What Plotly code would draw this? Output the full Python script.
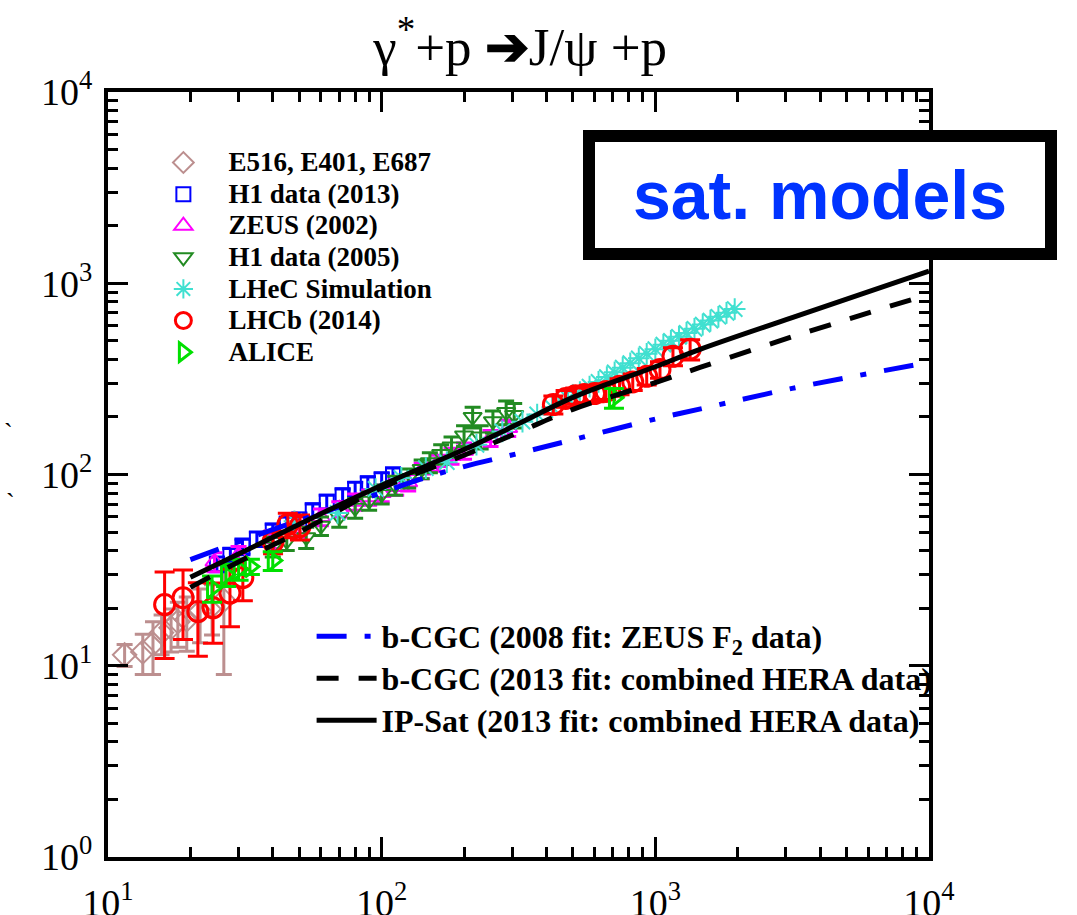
import plotly.graph_objects as go

# ---------------- data ----------------
E_W = [11.5, 13.4, 14.6, 15.7, 17.0, 18.0, 19.4, 21.7, 24.0, 26.5]
E_sig = [11.4, 11.8, 13.0, 14.9, 15.8, 17.0, 17.4, 19.2, 20.5, 22.0]
E_err = [1.5, 2.8, 4.0, 3.5, 4.0, 4.5, 5.5, 6.0, 6.0, 13.0]

H1_13_W = [25, 28, 31, 35, 40, 45, 50, 56, 63, 72, 80, 89, 100, 110]
H1_13_sig = [34, 38, 42, 46, 51, 55, 58, 65, 72, 78, 84, 90, 94, 100]
H1_13_err = [3, 3, 4, 4, 4, 5, 5, 5, 6, 6, 7, 7, 8, 8]

ZEUS_W = [24.5, 30, 40, 50, 60, 70, 80, 90, 100, 113, 125, 140, 160, 180, 200, 250, 290]
ZEUS_sig = [35, 38, 46, 52, 60, 66, 72, 76, 80, 86, 91, 105, 115, 125, 133, 155, 175]
ZEUS_err = [4, 4, 5, 5, 6, 6, 7, 7, 8, 8, 9, 10, 11, 12, 13, 15, 17]

H1_05_W = [40, 45, 53, 60, 70, 80, 90, 100, 112, 125, 140, 150, 165, 180, 200, 215, 230, 255, 285, 305]
H1_05_sig = [42, 45, 47, 54, 60, 67, 73, 79, 88, 96, 107, 116, 128, 140, 160, 200, 158, 190, 212, 205]
H1_05_err = [5, 5, 6, 6, 7, 8, 8, 9, 10, 11, 12, 14, 15, 17, 20, 25, 22, 25, 30, 30]

LHeC_W = [48, 69, 95, 118, 145, 173, 222, 276, 327, 370, 420, 480, 530, 575, 620, 665, 710,
          760, 810, 870, 930, 1000, 1070, 1140, 1220, 1300, 1390, 1490, 1590, 1700, 1820, 1950]
LHeC_sig = [57, 63, 84, 96, 108, 116, 143, 168, 189, 206, 225, 250, 270, 288, 305, 323, 342,
            362, 382, 405, 428, 452, 477, 500, 525, 550, 578, 608, 638, 668, 700, 733]

LHCb_W = [16.1, 18.8, 21.3, 24.2, 27.9, 31.1, 40.1, 45.4, 50.3,
          424, 470, 510, 550, 600, 660, 740, 827, 930, 1040, 1160, 1340]
LHCb_sig = [20.9, 22.7, 19.2, 20.1, 24.0, 28.9, 44.5, 54.7, 53.4,
            232, 250, 258, 262, 265, 272, 289, 305, 326, 354, 415, 452]
LHCb_err = [10, 9, 8, 7, 8, 7, 6, 8, 8,
            25, 25, 25, 25, 25, 25, 28, 30, 32, 35, 45, 55]

ALICE_W = [24, 27, 30, 33, 40, 706]
ALICE_sig = [25.5, 30, 32, 33, 35.5, 252]
ALICE_err = [4, 4, 4, 3, 4, 30]

# model curves
bCGC08_W = [20, 31.6, 50, 100, 138, 200, 316, 500, 1000, 1542, 3162, 10000]
bCGC08_sig = [35.9, 45.7, 57.5, 80.4, 94.2, 110, 129, 152, 195, 224, 282, 386]
bCGC13_W = [20, 31.6, 50, 100, 200, 316, 500, 1000, 1456, 3162, 10000]
bCGC13_sig = [25.7, 36.3, 50, 85.1, 126, 166, 219, 302, 363, 525, 876]
IPSat_W = [20, 31.6, 50, 100, 200, 316, 500, 1000, 1456, 3162, 10000]
IPSat_sig = [29.0, 39.8, 55.0, 87.9, 135, 184, 253, 366, 451, 661, 1156]

x_ticks = [10, 100, 1000, 10000]
x_ticktext = ["10<sup>1</sup>", "10<sup>2</sup>", "10<sup>3</sup>", "10<sup>4</sup>"]
y_ticks = [1, 10, 100, 1000, 10000]
y_ticktext = ["10<sup>0</sup>", "10<sup>1</sup>", "10<sup>2</sup>", "10<sup>3</sup>", "10<sup>4</sup>"]
x_minor = [k * 10 ** e for e in (1, 2, 3) for k in range(2, 10)]
y_minor = [k * 10 ** e for e in (0, 1, 2, 3) for k in range(2, 10)]

SERIF = "Liberation Serif, Times New Roman, serif"


def leg1(t):
    return '<span style="font-size:27px"><b>%s</b></span>' % t


def leg2(t):
    return '<span style="font-size:32px"><b>%s</b></span>' % t


fig = go.Figure()


def add_pts(W, s, err, name, symbol, color, size, lw=2, capw=8):
    ey = dict(type="data", array=err, visible=True, color=color, thickness=3, width=capw) if err else None
    fig.add_trace(go.Scatter(
        x=W, y=s, mode="markers", name=leg1(name), legend="legend",
        marker=dict(symbol=symbol, size=size, color=color, line=dict(color=color, width=lw)),
        error_y=ey))


add_pts(E_W, E_sig, E_err, "E516, E401, E687", "diamond-open", "#bc8f8f", 18)
add_pts(H1_13_W, H1_13_sig, H1_13_err, "H1 data (2013)", "square-open", "#0000ff", 14)
add_pts(ZEUS_W, ZEUS_sig, ZEUS_err, "ZEUS (2002)", "triangle-up-open", "#ff00ff", 16)
add_pts(H1_05_W, H1_05_sig, H1_05_err, "H1 data (2005)", "triangle-down-open", "#228b22", 16)
add_pts(LHeC_W, LHeC_sig, None, "LHeC Simulation", "asterisk-open", "#40e0d0", 18)
add_pts(LHCb_W, LHCb_sig, LHCb_err, "LHCb (2014)", "circle-open", "#ff0000", 20, lw=3, capw=10)
add_pts(ALICE_W, ALICE_sig, ALICE_err, "ALICE", "triangle-right-open", "#00e000", 18, lw=3, capw=10)

fig.add_trace(go.Scatter(x=bCGC08_W, y=bCGC08_sig, mode="lines", legend="legend2",
                         name=leg2("b-CGC (2008 fit: ZEUS F<sub>2</sub> data)"),
                         line=dict(color="#0000ff", width=5, dash="30px,18px,6px,18px"), line_shape="spline"))
fig.add_trace(go.Scatter(x=bCGC13_W, y=bCGC13_sig, mode="lines", legend="legend2",
                         name=leg2("b-CGC (2013 fit: combined HERA data)"),
                         line=dict(color="black", width=5, dash="22px,20px"), line_shape="spline"))
fig.add_trace(go.Scatter(x=IPSat_W, y=IPSat_sig, mode="lines", legend="legend2",
                         name=leg2("IP-Sat (2013 fit: combined HERA data)"),
                         line=dict(color="black", width=5), line_shape="spline"))
# carrier trace for the minor-tick overlay axes (invisible)
fig.add_trace(go.Scatter(x=IPSat_W, y=IPSat_sig, mode="lines", xaxis="x2", yaxis="y2",
                         line=dict(width=0, color="rgba(0,0,0,0)"), showlegend=False, hoverinfo="skip"))

base = dict(type="log", showgrid=False, zeroline=False, automargin=False,
            showline=True, linecolor="black", linewidth=4, mirror="ticks",
            ticks="inside", tickwidth=3, tickcolor="black", tickmode="array")

fig.update_layout(
    width=1077, height=915,
    margin=dict(l=108, r=148, t=92, b=58, autoexpand=False),
    paper_bgcolor="white", plot_bgcolor="white",
    title=dict(text="γ<sup>*</sup>+p <b>➔</b>J/ψ +p", x=0.502, xref="paper", xanchor="center",
               y=1 - 46 / 915, yref="container", yanchor="middle",
               font=dict(family=SERIF, size=53, color="black")),
    xaxis=dict(base, range=[1, 4], tickvals=x_ticks, ticktext=x_ticktext, ticklen=20,
               ticklabelstandoff=9, tickfont=dict(family=SERIF, size=38, color="black")),
    yaxis=dict(base, range=[0, 4], tickvals=y_ticks, ticktext=y_ticktext, ticklen=20,
               ticklabelstandoff=4, tickfont=dict(family=SERIF, size=38, color="black")),
    xaxis2=dict(base, range=[1, 4], tickvals=x_minor, ticklen=10, showticklabels=False,
                overlaying="x", anchor="y2", side="bottom"),
    yaxis2=dict(base, range=[0, 4], tickvals=y_minor, ticklen=10, showticklabels=False,
                overlaying="y", anchor="x2", side="left"),
    legend=dict(x=0.037, y=0.935, xanchor="left", yanchor="top", bgcolor="rgba(0,0,0,0)",
                font=dict(family=SERIF, size=22, color="black"), itemwidth=80, tracegroupgap=0),
    legend2=dict(x=0.248, y=0.3227, xanchor="left", yanchor="top", bgcolor="rgba(0,0,0,0)",
                 font=dict(family=SERIF, size=30, color="black"), itemwidth=60, tracegroupgap=0),
    showlegend=True,
    annotations=[
        dict(text="<b>sat. models</b>", xref="paper", yref="paper",
             x=(820 - 108) / 821, y=(857 - 195) / 765, xanchor="center", yanchor="middle",
             showarrow=False, font=dict(family="Liberation Sans, Arial, sans-serif", size=68, color="#0033ff"),
             bgcolor="white", bordercolor="black", borderwidth=12, borderpad=0,
             width=450, height=106),
        # fragments of the clipped y-axis title at the left edge
        dict(text="`", xref="paper", yref="paper", x=-100 / 821, y=(857 - 432) / 765,
             xanchor="center", yanchor="middle", showarrow=False,
             font=dict(family=SERIF, size=26, color="black")),
        dict(text="ˏ", xref="paper", yref="paper", x=-98 / 821, y=(857 - 484) / 765,
             xanchor="center", yanchor="middle", showarrow=False,
             font=dict(family=SERIF, size=26, color="black")),
    ],
)

fig.write_html("out.html")
